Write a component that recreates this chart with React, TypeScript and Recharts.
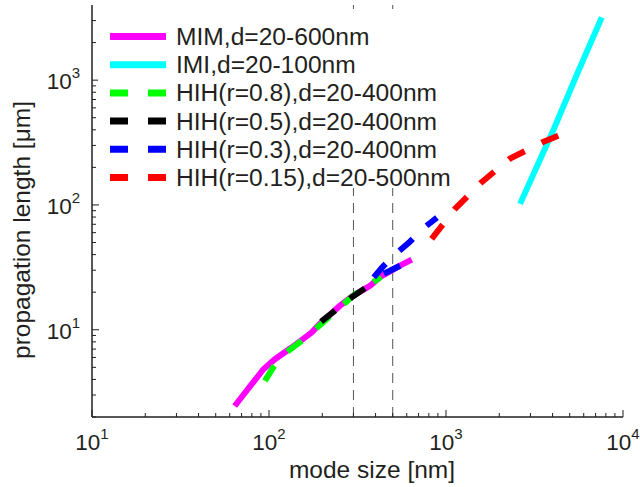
import { LineChart, Line, XAxis, YAxis, ReferenceLine, Legend } from "recharts";

// mode size [nm] / propagation length [um]
const mimSize = [64, 93, 108, 134, 174, 194, 252, 298, 372, 430, 550, 640];
const mimLength = [2.45, 4.83, 5.81, 7.2, 9.5, 11.2, 15.6, 18.7, 22.5, 26.8, 32.6, 36.5];
const imiSize = [2620, 4036, 5470, 7586];
const imiLength = [102, 396, 1096, 3186];
const hih08Size = [94.8, 107, 126.5, 153, 207, 298, 430];
const hih08Length = [3.89, 5.13, 6.65, 8.15, 11.8, 18.7, 26.6];
const hih05Size = [197, 263, 293, 367];
const hih05Length = [11.6, 16.1, 18.2, 22.6];
const hih03Size = [550, 435, 377, 435, 522, 618, 741, 889];
const hih03Length = [32.6, 27.6, 24.7, 31.5, 40.7, 49.9, 64.7, 79.3];
const hih015Size = [830, 1125, 1578, 2300, 3530, 4470];
const hih015Length = [53.5, 93.1, 151, 235, 319, 366];

const markerSizes = [300, 500];

const xTicks = [
  10, 20, 30, 40, 50, 60, 70, 80, 90,
  100, 200, 300, 400, 500, 600, 700, 800, 900,
  1000, 2000, 3000, 4000, 5000, 6000, 7000, 8000, 9000, 10000,
];
const yTicks = [
  2, 3, 4, 5, 6, 7, 8, 9,
  10, 20, 30, 40, 50, 60, 70, 80, 90,
  100, 200, 300, 400, 500, 600, 700, 800, 900,
  1000, 2000, 3000,
];

const zip = (xs: number[], ys: number[]) => xs.map((x, i) => ({ x, y: ys[i] }));

const series = [
  { name: "MIM,d=20-600nm", color: "#ff00ff", dash: undefined, data: zip(mimSize, mimLength) },
  { name: "IMI,d=20-100nm", color: "#00ffff", dash: undefined, data: zip(imiSize, imiLength) },
  { name: "HIH(r=0.8),d=20-400nm", color: "#00ff00", dash: "18 19", data: zip(hih08Size, hih08Length) },
  { name: "HIH(r=0.5),d=20-400nm", color: "#000000", dash: "18 19", data: zip(hih05Size, hih05Length) },
  { name: "HIH(r=0.3),d=20-400nm", color: "#0000ff", dash: "18 19", data: zip(hih03Size, hih03Length) },
  { name: "HIH(r=0.15),d=20-500nm", color: "#ff0000", dash: "18 19", data: zip(hih015Size, hih015Length) },
];

const FONT = "'Liberation Sans', Arial, sans-serif";
const INK = "#231f20";

const isMajor = (v: number) => Math.abs(Math.log10(v) - Math.round(Math.log10(v))) < 1e-6;

const Power = ({ v }: { v: number }) => (
  <>
    <tspan>10</tspan>
    <tspan dy={-11} fontSize={15}>
      {Math.round(Math.log10(v))}
    </tspan>
  </>
);

// ticks point into the plot, MATLAB style
const makeTick = (side: "bottom" | "top" | "left" | "right") => (props: any) => {
  const { x, y, payload } = props;
  const v = payload.value as number;
  const major = isMajor(v);
  const len = major ? 7 : 4;
  let line;
  if (side === "bottom") line = <line x1={x} x2={x} y1={y} y2={y - len} />;
  else if (side === "top") line = <line x1={x} x2={x} y1={y} y2={y + len} />;
  else if (side === "left") line = <line x1={x} x2={x + len} y1={y} y2={y} />;
  else line = <line x1={x} x2={x - len} y1={y} y2={y} />;
  return (
    <g>
      <g stroke={INK} strokeWidth={1}>{line}</g>
      {major && side === "bottom" && (
        <text x={x} y={y + 33} textAnchor="middle" fontSize={22.5} fontFamily={FONT} fill={INK}>
          <Power v={v} />
        </text>
      )}
      {major && side === "left" && (
        <text x={x - 12} y={y + 9} textAnchor="end" fontSize={22.5} fontFamily={FONT} fill={INK}>
          <Power v={v} />
        </text>
      )}
    </g>
  );
};

const LegendBox = () => (
  <svg width={365} height={172} style={{ display: "block", overflow: "visible" }}>
    <rect x={0} y={0} width={365} height={172} fill="#ffffff" />
    {series.map((s, i) => {
      const cy = 20.5 + i * 28.2;
      return (
        <g key={s.name}>
          <line
            x1={12}
            x2={68}
            y1={cy}
            y2={cy}
            stroke={s.color}
            strokeWidth={7}
            strokeDasharray={s.dash ? "18 20" : undefined}
          />
          <text x={78} y={cy + 8.5} fontSize={24.6} fontFamily={FONT} fill={INK}>
            {s.name}
          </text>
        </g>
      );
    })}
  </svg>
);

const axisLine = { stroke: INK, strokeWidth: 1.5 };

export default function App() {
  return (
    <div style={{ position: "absolute", left: 0, top: 0, background: "#fff" }}>
      <LineChart width={640} height={487} margin={{ top: 5, right: 17, bottom: 0, left: 0 }}>
        <XAxis
          xAxisId="b"
          dataKey="x"
          type="number"
          scale="log"
          domain={[10, 10000]}
          allowDataOverflow
          ticks={xTicks}
          interval={0}
          tick={makeTick("bottom")}
          tickLine={false}
          tickSize={0}
          tickMargin={0}
          axisLine={axisLine}
          height={70}
        />
        <XAxis
          xAxisId="t"
          orientation="top"
          dataKey="x"
          type="number"
          scale="log"
          domain={[10, 10000]}
          allowDataOverflow
          ticks={xTicks}
          interval={0}
          tick={makeTick("top")}
          tickLine={false}
          tickSize={0}
          tickMargin={0}
          axisLine={axisLine}
          height={0}
        />
        <YAxis
          yAxisId="l"
          type="number"
          scale="log"
          domain={[2, 4000]}
          allowDataOverflow
          ticks={yTicks}
          interval={0}
          tick={makeTick("left")}
          tickLine={false}
          tickSize={0}
          tickMargin={0}
          axisLine={axisLine}
          width={92}
        />
        <YAxis
          yAxisId="r"
          orientation="right"
          type="number"
          scale="log"
          domain={[2, 4000]}
          allowDataOverflow
          ticks={yTicks}
          interval={0}
          tick={makeTick("right")}
          tickLine={false}
          tickSize={0}
          tickMargin={0}
          axisLine={axisLine}
          width={0}
        />
        {markerSizes.map((m) => (
          <ReferenceLine
            key={m}
            xAxisId="b"
            yAxisId="l"
            x={m}
            stroke="#555555"
            strokeWidth={1}
            strokeDasharray="10 7"
          />
        ))}
        {series.map((s) => (
          <Line
            key={s.name}
            xAxisId="b"
            yAxisId="l"
            data={s.data}
            dataKey="y"
            name={s.name}
            type="linear"
            stroke={s.color}
            strokeWidth={6}
            strokeDasharray={s.dash}
            dot={false}
            activeDot={false}
            isAnimationActive={false}
          />
        ))}
        <Legend
          layout="vertical"
          align="center"
          verticalAlign="middle"
          wrapperStyle={{ left: 98, top: 16, width: 365, height: 172 }}
          content={LegendBox}
        />
        <text x={372} y={478} textAnchor="middle" fontSize={24.5} fontFamily={FONT} fill={INK}>
          mode size [nm]
        </text>
        <text
          x={30}
          y={230}
          textAnchor="middle"
          transform="rotate(-90 30 230)"
          fontSize={24.5}
          fontFamily={FONT}
          fill={INK}
        >
          propagation length [μm]
        </text>
      </LineChart>
    </div>
  );
}
